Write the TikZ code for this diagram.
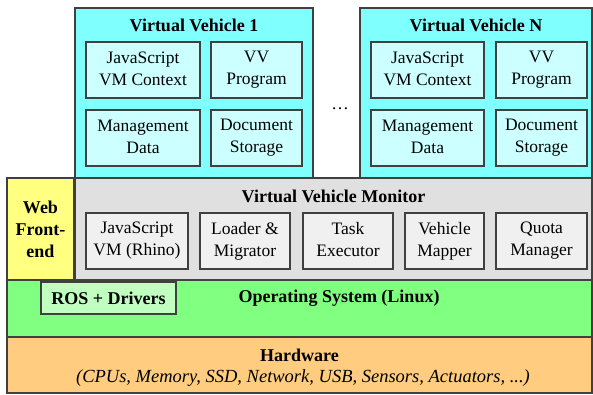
\documentclass[tikz,border=0pt]{standalone}
\usepackage{fontspec}
\setmainfont{Liberation Serif}
\usepackage{tikz}
\usetikzlibrary{positioning}
\definecolor{vvcyan}{RGB}{128,255,255}
\definecolor{vvlight}{RGB}{204,255,255}
\definecolor{monitorgray}{RGB}{224,224,224}
\definecolor{monitorlight}{RGB}{240,240,240}
\definecolor{webyellow}{RGB}{255,255,128}
\definecolor{osgreen}{RGB}{128,255,128}
\definecolor{roslight}{RGB}{192,255,192}
\definecolor{hworange}{RGB}{255,204,128}
\definecolor{edge}{RGB}{64,64,64}
\newcommand{\partstrut}{\rule[-2.5pt]{0pt}{18pt}}

\tikzset{
  layer/.style={draw=edge, line width=1.3pt, inner sep=0pt},
  part/.style={draw=edge, line width=1.1pt, align=center, inner sep=0pt, minimum height=56pt,
    execute at begin node=\partstrut, execute at end node=\partstrut},
  heading/.style={font=\fontsize{18}{22}\selectfont\bfseries, inner sep=0pt}
}

\begin{document}
\begin{tikzpicture}[x=1pt, y=-1pt, every node/.style={font=\fontsize{17.5}{22}\selectfont}]
    \useasboundingbox (0,0) rectangle (593,394);
    % virtual vehicles
    \node[layer, fill=vvcyan, minimum width=238pt, minimum height=170pt] (vv1) at (194,93) {};
    \node[heading] (vv1title) at (194,25) {Virtual Vehicle 1};
    \node[part, fill=vvlight, minimum width=114pt] (ctx1) at (143,70) {JavaScript\\VM Context};
    \node[part, fill=vvlight, minimum width=91pt] (prog1) at (256.5,70) {VV\\Program};
    \node[part, fill=vvlight, minimum width=114pt] (mgmt1) at (143,138) {Management\\Data};
    \node[part, fill=vvlight, minimum width=91pt] (doc1) at (256.5,138) {Document\\Storage};

    \node (dots) at (340,109) {\ldots};

    \node[layer, fill=vvcyan, minimum width=232pt, minimum height=170pt] (vvn) at (476,93) {};
    \node[heading] (vvntitle) at (476,25) {Virtual Vehicle N};
    \node[part, fill=vvlight, minimum width=113pt] (ctxn) at (427.5,70) {JavaScript\\VM Context};
    \node[part, fill=vvlight, minimum width=91pt] (progn) at (541.5,70) {VV\\Program};
    \node[part, fill=vvlight, minimum width=113pt] (mgmtn) at (427.5,138) {Management\\Data};
    \node[part, fill=vvlight, minimum width=91pt] (docn) at (541.5,138) {Document\\Storage};

    % monitor and web front-end
    \node[layer, fill=webyellow, minimum width=67pt, minimum height=102pt, font=\fontsize{18}{22}\selectfont\bfseries, align=center] (web) at (40.5,229) {Web\\Front-\\end};
    \node[layer, fill=monitorgray, minimum width=517pt, minimum height=102pt] (vvm) at (333.5,229) {};
    \node[heading] (vvmtitle) at (333.5,196) {Virtual Vehicle Monitor};
    \node[part, fill=monitorlight, minimum width=102pt] (rhino) at (137,241) {JavaScript\\VM (Rhino)};
    \node[part, fill=monitorlight, minimum width=90pt] (loader) at (245,241) {Loader \&\\Migrator};
    \node[part, fill=monitorlight, minimum width=90pt] (task) at (348,241) {Task\\Executor};
    \node[part, fill=monitorlight, minimum width=79pt] (mapper) at (444.5,241) {Vehicle\\Mapper};
    \node[part, fill=monitorlight, minimum width=91pt] (quota) at (541.5,241) {Quota\\Manager};

    % operating system
    \node[layer, fill=osgreen, minimum width=585pt, minimum height=57pt] (os) at (299.5,308.5) {};
    \node[heading] (ostitle) at (339,298) {Operating System (Linux)};
    \node[draw=edge, line width=1.1pt, inner sep=0pt, fill=roslight, minimum width=135pt, minimum height=32pt, font=\fontsize{18}{22}\selectfont\bfseries] (ros) at (108.5,298) {ROS + Drivers};

    % hardware
    \node[layer, fill=hworange, minimum width=585pt, minimum height=56pt] (hw) at (299.5,365) {};
    \node[heading] (hwtitle) at (299.5,355) {Hardware};
    \node[inner sep=0pt, font=\fontsize{18.5}{22}\selectfont\itshape] (hwlist) at (303,378) {(CPUs, Memory, SSD, Network, USB, Sensors, Actuators, ...)};
  \end{tikzpicture}
\end{document}
